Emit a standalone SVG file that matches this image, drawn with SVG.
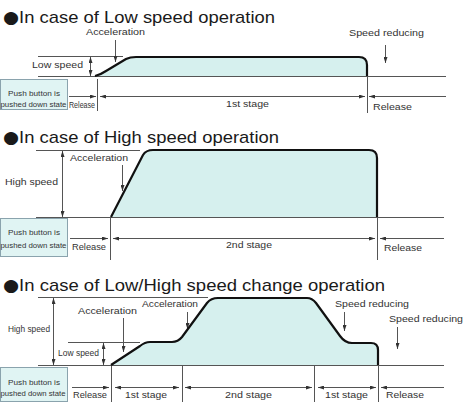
<svg xmlns="http://www.w3.org/2000/svg" width="464" height="402" viewBox="0 0 464 402">
<style>
.title{font-family:"Liberation Sans",Arial,sans-serif;font-size:17px;fill:#1a1a1a}
.bul{font-family:"DejaVu Sans",sans-serif;font-size:17px}
.lbl{font-family:"Liberation Sans",Arial,sans-serif;font-size:9.5px;fill:#333}
.box{font-family:"Liberation Sans",Arial,sans-serif;font-size:8px;fill:#333}
.thin{stroke:#555;stroke-width:1;fill:none}
.arr{stroke:#555;stroke-width:1;fill:none;marker-end:url(#ah)}
.darr{stroke:#555;stroke-width:1;fill:none;marker-start:url(#ah);marker-end:url(#ah)}
.curve{stroke:#111;stroke-width:2.2;fill:none;stroke-linejoin:round}
.fill{fill:#d6f0ee;stroke:none}
.pb{fill:#e0f4f3;stroke:#8aa3ad;stroke-width:1}
</style>
<defs>
<marker id="ah" viewBox="0 0 6 4" refX="6" refY="2" markerWidth="6" markerHeight="4" markerUnits="userSpaceOnUse" orient="auto-start-reverse"><path d="M0,0 L6,2 L0,4 z" fill="#333"/></marker>
</defs>
<rect width="464" height="402" fill="#fff"/>

<!-- Section 1: Low speed -->
<g id="low-speed">
<text class="title" x="3" y="23" textLength="272" lengthAdjust="spacingAndGlyphs"><tspan class="bul">●</tspan>In case of Low speed operation</text>
<path class="fill" d="M95,76 Q100,75 106,71 L126,59 Q130,57 136,57 L359,57 Q367,57 367,65 L367,76 Z"/>
<g id="pb1"><rect class="pb" x="0.5" y="79.5" width="67" height="30"/>
<text class="box" x="34" y="96" text-anchor="middle" textLength="52" lengthAdjust="spacingAndGlyphs">Push button is</text>
<text class="box" x="33.5" y="107" text-anchor="middle" textLength="66" lengthAdjust="spacingAndGlyphs">pushed down state</text></g>
<text class="lbl" x="86" y="35" textLength="59" lengthAdjust="spacingAndGlyphs">Acceleration</text>
<text class="lbl" x="349" y="36" textLength="75" lengthAdjust="spacingAndGlyphs">Speed reducing</text>
<text class="lbl" x="32" y="68" textLength="51" lengthAdjust="spacingAndGlyphs">Low speed</text>
<text class="lbl" x="69" y="108" font-size="7.5" textLength="26" lengthAdjust="spacingAndGlyphs">Release</text>
<text class="lbl" x="226" y="107" textLength="43" lengthAdjust="spacingAndGlyphs">1st stage</text>
<text class="lbl" x="373" y="110" textLength="39" lengthAdjust="spacingAndGlyphs">Release</text>
</g>

<!-- Section 2: High speed -->
<g id="high-speed">
<text class="title" x="3" y="143" textLength="276" lengthAdjust="spacingAndGlyphs"><tspan class="bul">●</tspan>In case of High speed operation</text>
<path class="fill" d="M111,217 L143,155 Q146,150 153,150 L369,150 Q377,150 377,158 L377,217 Z"/>
<g id="pb2"><rect class="pb" x="0.5" y="218.5" width="67" height="38"/>
<text class="box" x="34" y="235" text-anchor="middle" textLength="52" lengthAdjust="spacingAndGlyphs">Push button is</text>
<text class="box" x="33.5" y="248" text-anchor="middle" textLength="66" lengthAdjust="spacingAndGlyphs">pushed down state</text></g>
<text class="lbl" x="70" y="161" textLength="58" lengthAdjust="spacingAndGlyphs">Acceleration</text>
<text class="lbl" x="5" y="185" textLength="53" lengthAdjust="spacingAndGlyphs">High speed</text>
<text class="lbl" x="72" y="250" textLength="34" lengthAdjust="spacingAndGlyphs">Release</text>
<text class="lbl" x="226" y="248" textLength="46" lengthAdjust="spacingAndGlyphs">2nd stage</text>
<text class="lbl" x="384" y="251" textLength="38" lengthAdjust="spacingAndGlyphs">Release</text>
</g>

<!-- Section 3: Low/High speed change -->
<g id="change-speed">
<text class="title" x="3" y="291" textLength="382" lengthAdjust="spacingAndGlyphs"><tspan class="bul">●</tspan>In case of Low/High speed change operation</text>
<path class="fill" d="M111,365 L140,346 Q145,342 150,342 L172,342 Q178,342 182,337 L207,303 Q211,298 218,298 L307,298 Q312,298 316,303 L340,336 Q345,343 352,343 L371,343 Q378,343 378,350 L378,365 Z"/>
<g id="pb3"><rect class="pb" x="0.5" y="367.5" width="67" height="34"/>
<text class="box" x="34" y="385" text-anchor="middle" textLength="52" lengthAdjust="spacingAndGlyphs">Push button is</text>
<text class="box" x="33" y="396" text-anchor="middle" textLength="65" lengthAdjust="spacingAndGlyphs">pushed down state</text></g>
<text class="lbl" x="8" y="332" font-size="8" textLength="42" lengthAdjust="spacingAndGlyphs">High speed</text>
<text class="lbl" x="58" y="356" font-size="8" textLength="41" lengthAdjust="spacingAndGlyphs">Low speed</text>
<text class="lbl" x="78" y="314" textLength="59" lengthAdjust="spacingAndGlyphs">Acceleration</text>
<text class="lbl" x="142" y="307" textLength="56" lengthAdjust="spacingAndGlyphs">Acceleration</text>
<text class="lbl" x="335" y="307" textLength="74" lengthAdjust="spacingAndGlyphs">Speed reducing</text>
<text class="lbl" x="389" y="322" textLength="74" lengthAdjust="spacingAndGlyphs">Speed reducing</text>
<text class="lbl" x="73" y="398" textLength="34" lengthAdjust="spacingAndGlyphs">Release</text>
<text class="lbl" x="125" y="398" textLength="42" lengthAdjust="spacingAndGlyphs">1st stage</text>
<text class="lbl" x="225" y="398" textLength="47" lengthAdjust="spacingAndGlyphs">2nd stage</text>
<text class="lbl" x="325" y="398" textLength="43" lengthAdjust="spacingAndGlyphs">1st stage</text>
<text class="lbl" x="386" y="398" textLength="38" lengthAdjust="spacingAndGlyphs">Release</text>
</g>

<g id="connectors">
<!-- section 1 -->
<path class="thin" d="M38,56.5 H123 M38,76.5 H446 M97.5,79 V111 M367.5,76 V113"/>
<path class="darr" d="M90.5,57 V76"/>
<path class="arr" d="M115.5,40 V62"/>
<path class="arr" d="M385.5,45 V63"/>
<path class="arr" d="M69,96.5 H96"/>
<path class="darr" d="M100,96.5 H365"/>
<path class="arr" d="M446,96.5 H369"/>
<path class="curve" d="M95,76 Q100,75 106,71 L126,59 Q130,57 136,57 L359,57 Q367,57 367,65 L367,76"/>
<!-- section 2 -->
<path class="thin" d="M36,150.5 H140 M36,217.5 H444 M110.5,217 V260 M377.5,217 V260"/>
<path class="darr" d="M62.5,151 V217"/>
<path class="arr" d="M122.5,165 V191"/>
<path class="arr" d="M70,238.5 H108"/>
<path class="darr" d="M113,238.5 H375"/>
<path class="arr" d="M444,238.5 H380"/>
<path class="curve" d="M111,217 L143,155 Q146,150 153,150 L369,150 Q377,150 377,158 L377,217"/>
<!-- section 3 -->
<path class="thin" d="M38,297.5 H208 M68,342.5 H140 M38,365.5 H444 M111.5,365 V402 M182.5,365 V402 M314.5,365 V402 M378.5,365 V402"/>
<path class="darr" d="M53.5,298 V365"/>
<path class="darr" d="M103.5,343 V365"/>
<path class="arr" d="M123.5,318 V352"/>
<path class="arr" d="M187.5,312 V329"/>
<path class="arr" d="M344.5,312 V331"/>
<path class="arr" d="M397.5,327 V349"/>
<path class="arr" d="M72,387.5 H109"/>
<path class="darr" d="M115,387.5 H179"/>
<path class="darr" d="M185,387.5 H312"/>
<path class="darr" d="M318,387.5 H376"/>
<path class="arr" d="M444,387.5 H381"/>
<path class="curve" d="M111,365 L140,346 Q145,342 150,342 L172,342 Q178,342 182,337 L207,303 Q211,298 218,298 L307,298 Q312,298 316,303 L340,336 Q345,343 352,343 L371,343 Q378,343 378,350 L378,365"/>
</g>
</svg>
